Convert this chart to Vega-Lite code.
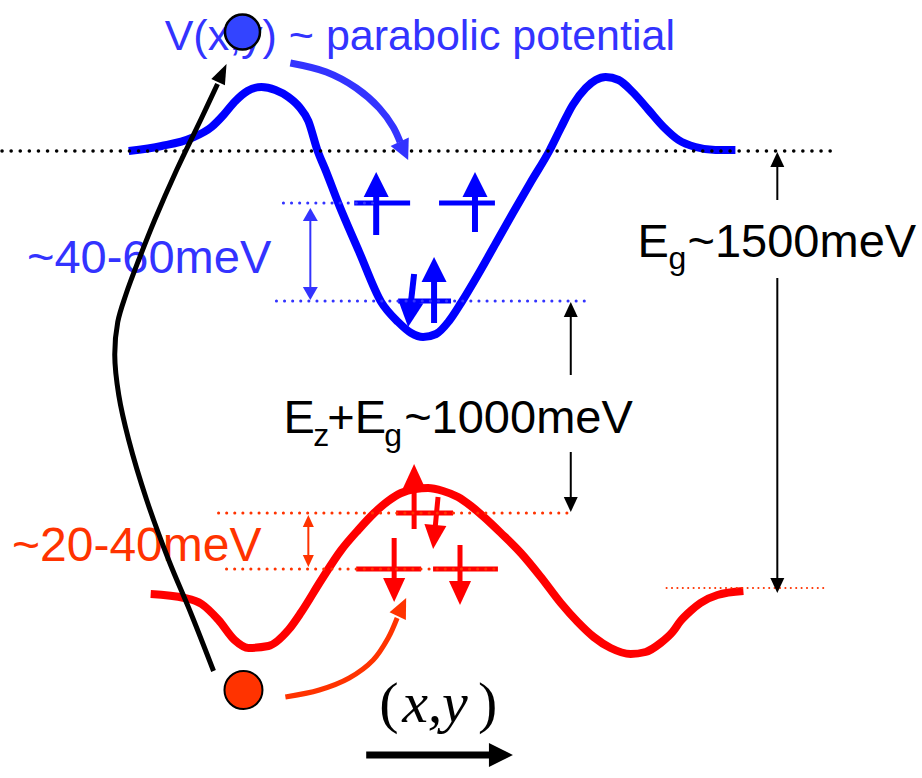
{
  "$schema": "https://vega.github.io/schema/vega-lite/v6.json",
  "width": 922,
  "height": 778,
  "autosize": {"type": "fit", "contains": "padding"},
  "padding": 0,
  "background": "white",
  "config": {"view": {"stroke": null}},
  "encoding": {
    "x": {"field": "x", "type": "quantitative", "scale": {"domain": [0, 922], "nice": false, "zero": false}, "axis": null},
    "y": {"field": "y", "type": "quantitative", "scale": {"domain": [0, 778], "nice": false, "zero": false, "reverse": true}, "axis": null}
  },
  "layer": [
    {
      "data": {"values": [
        {"x":127,"y":151},{"x":160,"y":146},{"x":190,"y":138},{"x":210,"y":127},{"x":222,"y":115},{"x":233,"y":102},{"x":246,"y":91},{"x":260,"y":87},{"x":274,"y":90},{"x":287,"y":97},{"x":298,"y":107},{"x":307,"y":121},{"x":316,"y":150},{"x":325,"y":172},{"x":337,"y":203},{"x":358,"y":252},{"x":380,"y":302},{"x":397,"y":322},{"x":410,"y":333},{"x":422,"y":337},{"x":435,"y":334},{"x":448,"y":321},{"x":460,"y":303},{"x":478,"y":273},{"x":495,"y":243},{"x":512,"y":213},{"x":530,"y":182},{"x":549,"y":150},{"x":560,"y":128},{"x":572,"y":105},{"x":585,"y":88},{"x":595,"y":80},{"x":605,"y":77},{"x":618,"y":80},{"x":632,"y":92},{"x":648,"y":110},{"x":663,"y":127},{"x":678,"y":140},{"x":695,"y":147},{"x":715,"y":150},{"x":735,"y":150}
      ]},
      "mark": {"type": "line", "color": "#0000ff", "strokeWidth": 8, "interpolate": "monotone"}
    },
    {
      "data": {"values": [
        {"x":149,"y":594},{"x":183,"y":598},{"x":200,"y":604},{"x":217,"y":620},{"x":233,"y":640},{"x":247,"y":648},{"x":267,"y":646},{"x":287,"y":630},{"x":300,"y":612},{"x":320,"y":580},{"x":340,"y":550},{"x":357,"y":530},{"x":373,"y":513},{"x":387,"y":501},{"x":400,"y":493},{"x":414,"y":489},{"x":427,"y":488},{"x":442,"y":491},{"x":457,"y":497},{"x":470,"y":506},{"x":483,"y":517},{"x":500,"y":533},{"x":520,"y":553},{"x":540,"y":577},{"x":560,"y":603},{"x":577,"y":622},{"x":593,"y":637},{"x":610,"y":648},{"x":630,"y":654},{"x":645,"y":652},{"x":660,"y":643},{"x":672,"y":632},{"x":680,"y":621},{"x":690,"y":611},{"x":700,"y":603},{"x":717,"y":595},{"x":743,"y":591}
      ]},
      "mark": {"type": "line", "color": "#ff0000", "strokeWidth": 8, "interpolate": "monotone"}
    },
    {
      "data": {"values": [
        {"x":353,"y":203,"x2":409,"y2":203},{"x":438,"y":203,"x2":494,"y2":203},{"x":397,"y":301,"x2":450,"y2":301}
      ]},
      "mark": {"type": "rule", "color": "#0000ff", "strokeWidth": 5},
      "encoding": {"x2": {"field": "x2"}, "y2": {"field": "y2"}}
    },
    {
      "data": {"values": [
        {"x":395,"y":513,"x2":452,"y2":513},{"x":355,"y":569,"x2":420,"y2":569},{"x":432,"y":569,"x2":497,"y2":569}
      ]},
      "mark": {"type": "rule", "color": "#ff0000", "strokeWidth": 5},
      "encoding": {"x2": {"field": "x2"}, "y2": {"field": "y2"}}
    },
    {
      "data": {"values": [
        {"x":375,"y":235,"x2":375,"y2":186},{"x":474,"y":232,"x2":474,"y2":186},{"x":433,"y":323,"x2":433,"y2":271},{"x":413,"y":274,"x2":408.5,"y2":314}
      ]},
      "mark": {"type": "rule", "color": "#0000ff", "strokeWidth": 6},
      "encoding": {"x2": {"field": "x2"}, "y2": {"field": "y2"}}
    },
    {
      "data": {"values": [
        {"x":375,"y":184.5,"a":0},{"x":474,"y":184.5,"a":0},{"x":433,"y":269.5,"a":0},{"x":408.4,"y":314.6,"a":186.5}
      ]},
      "mark": {"type": "point", "shape": "M0,-1L1,1L-1,1Z", "size": 625, "filled": true, "color": "#0000ff", "opacity": 1, "strokeWidth": 0},
      "encoding": {"angle": {"field": "a", "type": "quantitative", "scale": null}}
    },
    {
      "data": {"values": [
        {"x":413,"y":529,"x2":413,"y2":478},{"x":437,"y":497,"x2":433.3,"y2":536},{"x":393,"y":538,"x2":393,"y2":589},{"x":459,"y":545,"x2":459,"y2":592}
      ]},
      "mark": {"type": "rule", "color": "#ff0000", "strokeWidth": 5},
      "encoding": {"x2": {"field": "x2"}, "y2": {"field": "y2"}}
    },
    {
      "data": {"values": [
        {"x":413,"y":476,"a":0},{"x":433.2,"y":537,"a":185.5},{"x":393,"y":590,"a":180},{"x":459,"y":593,"a":180}
      ]},
      "mark": {"type": "point", "shape": "M0,-1L0.92,1L-0.92,1Z", "size": 576, "filled": true, "color": "#ff0000", "opacity": 1, "strokeWidth": 0},
      "encoding": {"angle": {"field": "a", "type": "quantitative", "scale": null}}
    },
    {
      "data": {"values": [{"x":0,"y":151,"x2":830,"y2":151}]},
      "mark": {"type": "rule", "color": "#000000", "strokeWidth": 3.5, "strokeDash": [0.1, 9], "strokeCap": "round"},
      "encoding": {"x2": {"field": "x2"}, "y2": {"field": "y2"}}
    },
    {
      "data": {"values": [{"x":282,"y":203,"x2":372,"y2":203},{"x":275,"y":301,"x2":590,"y2":301}]},
      "mark": {"type": "rule", "color": "#3333ff", "strokeWidth": 3, "strokeDash": [0.1, 8], "strokeCap": "round"},
      "encoding": {"x2": {"field": "x2"}, "y2": {"field": "y2"}}
    },
    {
      "data": {"values": [{"x":217,"y":513,"x2":570,"y2":513},{"x":225,"y":569,"x2":500,"y2":569}]},
      "mark": {"type": "rule", "color": "#ff3300", "strokeWidth": 3, "strokeDash": [0.1, 8], "strokeCap": "round"},
      "encoding": {"x2": {"field": "x2"}, "y2": {"field": "y2"}}
    },
    {
      "data": {"values": [{"x":666,"y":588,"x2":825,"y2":588}]},
      "mark": {"type": "rule", "color": "#ff3300", "strokeWidth": 2, "strokeDash": [0.1, 5.3], "strokeCap": "round"},
      "encoding": {"x2": {"field": "x2"}, "y2": {"field": "y2"}}
    },
    {
      "data": {"values": [
        {"x":777,"y":200,"x2":777,"y2":160},{"x":777,"y":278,"x2":777,"y2":585},{"x":570,"y":375,"x2":570,"y2":310},{"x":570,"y":452,"x2":570,"y2":505}
      ]},
      "mark": {"type": "rule", "color": "#000000", "strokeWidth": 2},
      "encoding": {"x2": {"field": "x2"}, "y2": {"field": "y2"}}
    },
    {
      "data": {"values": [
        {"x":777,"y":159.5,"a":0},{"x":777,"y":585.5,"a":180},{"x":570,"y":309.5,"a":0},{"x":570,"y":504.5,"a":180}
      ]},
      "mark": {"type": "point", "shape": "M0,-1L0.93,1L-0.93,1Z", "size": 225, "filled": true, "color": "#000000", "opacity": 1, "strokeWidth": 0},
      "encoding": {"angle": {"field": "a", "type": "quantitative", "scale": null}}
    },
    {
      "data": {"values": [{"x":309,"y":214,"x2":309,"y2":294}]},
      "mark": {"type": "rule", "color": "#3333ff", "strokeWidth": 2},
      "encoding": {"x2": {"field": "x2"}, "y2": {"field": "y2"}}
    },
    {
      "data": {"values": [{"x":309,"y":214.5,"a":0},{"x":309,"y":293.5,"a":180}]},
      "mark": {"type": "point", "shape": "M0,-1L1.15,1L-1.15,1Z", "size": 169, "filled": true, "color": "#3333ff", "opacity": 1, "strokeWidth": 0},
      "encoding": {"angle": {"field": "a", "type": "quantitative", "scale": null}}
    },
    {
      "data": {"values": [{"x":307,"y":521,"x2":307,"y2":561}]},
      "mark": {"type": "rule", "color": "#ff3300", "strokeWidth": 2},
      "encoding": {"x2": {"field": "x2"}, "y2": {"field": "y2"}}
    },
    {
      "data": {"values": [{"x":307,"y":521,"a":0},{"x":307,"y":561,"a":180}]},
      "mark": {"type": "point", "shape": "M0,-1L0.92,1L-0.92,1Z", "size": 144, "filled": true, "color": "#ff3300", "opacity": 1, "strokeWidth": 0},
      "encoding": {"angle": {"field": "a", "type": "quantitative", "scale": null}}
    },
    {
      "data": {"values": [{"x":365,"y":755,"x2":500,"y2":755}]},
      "mark": {"type": "rule", "color": "#000000", "strokeWidth": 7},
      "encoding": {"x2": {"field": "x2"}, "y2": {"field": "y2"}}
    },
    {
      "data": {"values": [{"x":500,"y":755,"a":90}]},
      "mark": {"type": "point", "shape": "M0,-1L1,1L-1,1Z", "size": 576, "filled": true, "color": "#000000", "opacity": 1, "strokeWidth": 0},
      "encoding": {"angle": {"field": "a", "type": "quantitative", "scale": null}}
    },
    {
      "data": {"values": [{"x":163,"y":50,"t":"V(x,y) ~ parabolic potential"}]},
      "mark": {"type": "text", "font": "Liberation Sans", "fontSize": 43, "color": "#3333ff", "align": "left", "baseline": "alphabetic"},
      "encoding": {"text": {"field": "t"}}
    },
    {
      "data": {"values": [{"x":25,"y":273,"t":"~40-60meV"}]},
      "mark": {"type": "text", "font": "Liberation Sans", "fontSize": 47, "color": "#3333ff", "align": "left", "baseline": "alphabetic"},
      "encoding": {"text": {"field": "t"}}
    },
    {
      "data": {"values": [{"x":10,"y":561,"t":"~20-40meV"}]},
      "mark": {"type": "text", "font": "Liberation Sans", "fontSize": 48, "color": "#ff3300", "align": "left", "baseline": "alphabetic"},
      "encoding": {"text": {"field": "t"}}
    },
    {
      "data": {"values": [
        {"x":282,"y":433,"t":"E"},{"x":326,"y":433,"t":"+E"},{"x":403,"y":433,"t":"~1000meV"},{"x":637,"y":257,"t":"E"},{"x":687,"y":257,"t":"~1500meV"}
      ]},
      "mark": {"type": "text", "font": "Liberation Sans", "fontSize": 47, "color": "#000000", "align": "left", "baseline": "alphabetic"},
      "encoding": {"text": {"field": "t"}}
    },
    {
      "data": {"values": [
        {"x":312,"y":446,"t":"z"},{"x":383,"y":446,"t":"g"},{"x":668,"y":269,"t":"g"}
      ]},
      "mark": {"type": "text", "font": "Liberation Sans", "fontSize": 32, "color": "#000000", "align": "left", "baseline": "alphabetic"},
      "encoding": {"text": {"field": "t"}}
    },
    {
      "data": {"values": [{"x":378,"y":722,"t":"("},{"x":477,"y":722,"t":")"}]},
      "mark": {"type": "text", "font": "Liberation Serif", "fontSize": 58, "color": "#000000", "align": "left", "baseline": "alphabetic"},
      "encoding": {"text": {"field": "t"}}
    },
    {
      "data": {"values": [{"x":401,"y":722,"t":"x,"},{"x":441,"y":722,"t":"y"}]},
      "mark": {"type": "text", "font": "Liberation Serif", "fontSize": 58, "fontStyle": "italic", "color": "#000000", "align": "left", "baseline": "alphabetic"},
      "encoding": {"text": {"field": "t"}}
    },
    {
      "data": {"values": [
        {"i":0,"x":212,"y":671},{"i":1,"x":190,"y":615},{"i":2,"x":167,"y":560},{"i":3,"x":145,"y":500},{"i":4,"x":127,"y":440},{"i":5,"x":117,"y":395},{"i":6,"x":113,"y":355},{"i":7,"x":116,"y":322},{"i":8,"x":124,"y":295},{"i":9,"x":137,"y":260},{"i":10,"x":153,"y":220},{"i":11,"x":175,"y":170},{"i":12,"x":200,"y":118},{"i":13,"x":216,"y":84}
      ]},
      "mark": {"type": "line", "color": "#000000", "strokeWidth": 5, "interpolate": "catmull-rom"},
      "encoding": {"order": {"field": "i", "type": "quantitative"}}
    },
    {
      "data": {"values": [{"x":220.8,"y":73.1,"a":25}]},
      "mark": {"type": "point", "shape": "M0,-1L0.75,1L-0.75,1Z", "size": 400, "filled": true, "color": "#000000", "opacity": 1, "strokeWidth": 0},
      "encoding": {"angle": {"field": "a", "type": "quantitative", "scale": null}}
    },
    {
      "data": {"values": [
        {"i":0,"x":289,"y":63},{"i":1,"x":325,"y":72},{"i":2,"x":355,"y":88},{"i":3,"x":378,"y":108},{"i":4,"x":392,"y":127},{"i":5,"x":399,"y":142}
      ]},
      "mark": {"type": "line", "color": "#3333ff", "strokeWidth": 7, "interpolate": "catmull-rom"},
      "encoding": {"order": {"field": "i", "type": "quantitative"}}
    },
    {
      "data": {"values": [{"x":402.8,"y":150.9,"a":155}]},
      "mark": {"type": "point", "shape": "M0,-1L1,1L-1,1Z", "size": 400, "filled": true, "color": "#3333ff", "opacity": 1, "strokeWidth": 0},
      "encoding": {"angle": {"field": "a", "type": "quantitative", "scale": null}}
    },
    {
      "data": {"values": [
        {"i":0,"x":284,"y":697},{"i":1,"x":318,"y":690},{"i":2,"x":348,"y":678},{"i":3,"x":372,"y":660},{"i":4,"x":387,"y":638},{"i":5,"x":396,"y":618}
      ]},
      "mark": {"type": "line", "color": "#ff3300", "strokeWidth": 5, "interpolate": "catmull-rom"},
      "encoding": {"order": {"field": "i", "type": "quantitative"}}
    },
    {
      "data": {"values": [{"x":400.8,"y":607.1,"a":25}]},
      "mark": {"type": "point", "shape": "M0,-1L0.9,1L-0.9,1Z", "size": 400, "filled": true, "color": "#ff3300", "opacity": 1, "strokeWidth": 0},
      "encoding": {"angle": {"field": "a", "type": "quantitative", "scale": null}}
    },
    {
      "data": {"values": [{"x":241,"y":32}]},
      "mark": {"type": "point", "shape": "circle", "size": 1225, "filled": true, "fill": "#3344ff", "stroke": "#000000", "strokeWidth": 2.5, "opacity": 1}
    },
    {
      "data": {"values": [{"x":242,"y":690}]},
      "mark": {"type": "point", "shape": "circle", "size": 1444, "filled": true, "fill": "#ff3300", "stroke": "#000000", "strokeWidth": 2, "opacity": 1}
    }
  ]
}
